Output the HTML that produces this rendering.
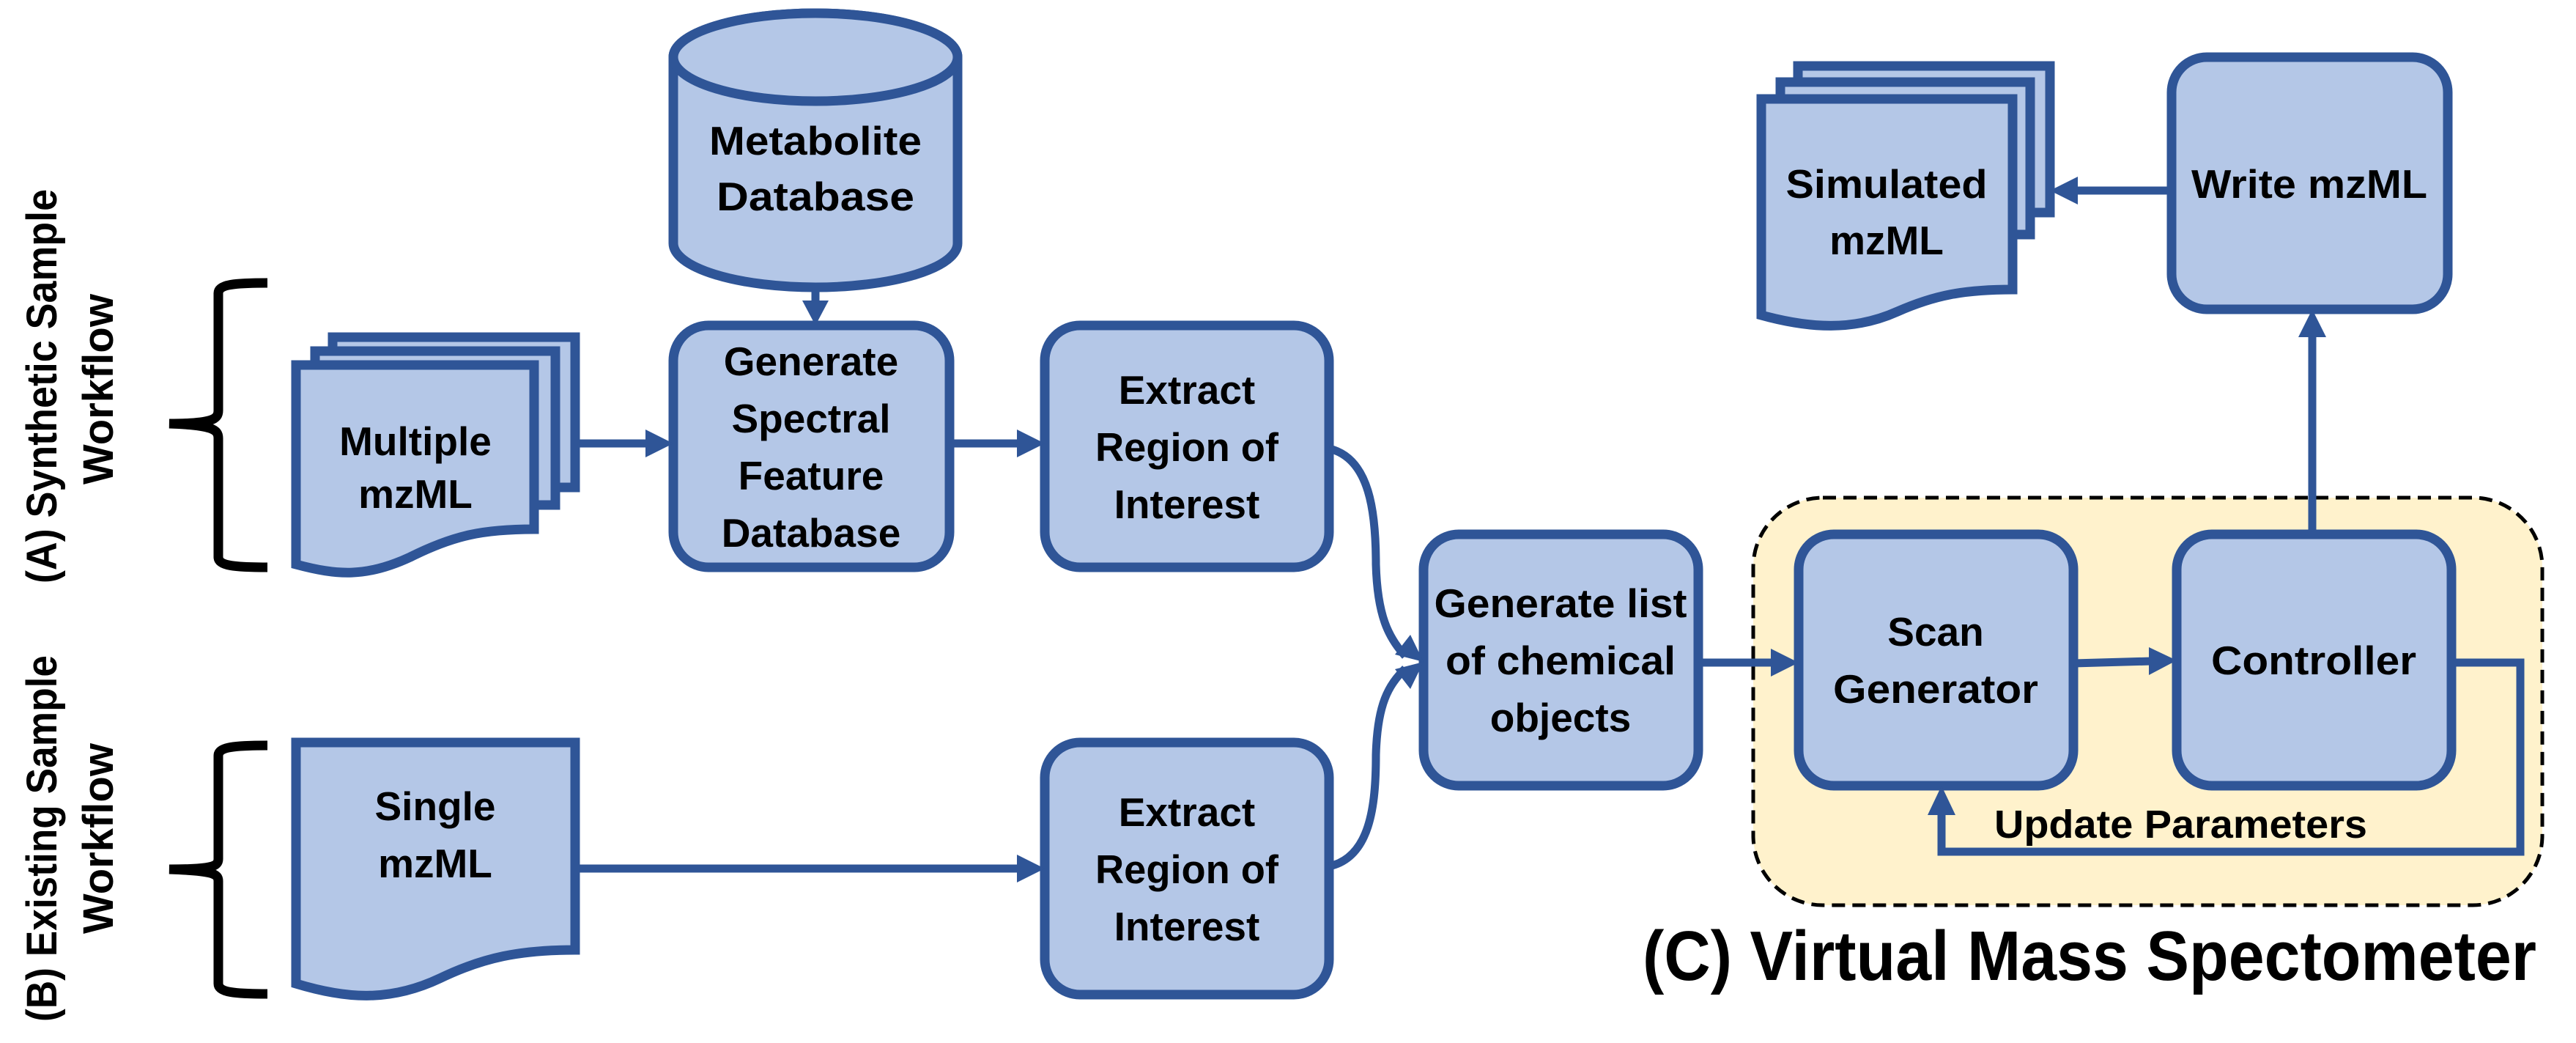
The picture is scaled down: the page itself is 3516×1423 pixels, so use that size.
<!DOCTYPE html>
<html><head><meta charset="utf-8"><style>
html,body{margin:0;padding:0;background:#fff;}
svg{display:block;}
text{font-family:"Liberation Sans",sans-serif;font-weight:bold;fill:#000;}
.b{fill:#B4C7E7;stroke:#2F5597;stroke-width:13;}
.l{fill:none;stroke:#2F5597;stroke-width:11;}
.h{fill:#2F5597;}
.t{font-size:55px;text-anchor:middle;}
.k{fill:none;stroke:#000;stroke-width:13;}
</style></head><body>
<svg width="3516" height="1423" viewBox="0 0 3516 1423" xmlns="http://www.w3.org/2000/svg">
<rect x="2393" y="679" width="1077" height="556" rx="95" fill="#FFF2CC" stroke="#000" stroke-width="5" stroke-dasharray="18,10"/>

<path class="k" d="M365 386 C320 386 298 388 298 400 L298 560 C298 572 290 578 231 578 C290 580 298 586 298 598 L298 760 C298 772 320 774 365 774"/>
<path class="k" d="M365 1017 C320 1017 298 1019 298 1031 L298 1172 C298 1182 290 1186 231 1186 C290 1188 298 1192 298 1202 L298 1342 C298 1354 320 1356 365 1356"/>
<text transform="translate(77,527) rotate(-90)" text-anchor="middle" font-size="58" textLength="538" lengthAdjust="spacingAndGlyphs">(A) Synthetic Sample</text>
<text transform="translate(154,531) rotate(-90)" text-anchor="middle" font-size="58" textLength="260" lengthAdjust="spacingAndGlyphs">Workflow</text>
<text transform="translate(77,1144) rotate(-90)" text-anchor="middle" font-size="58" textLength="500" lengthAdjust="spacingAndGlyphs">(B) Existing Sample</text>
<text transform="translate(154,1144) rotate(-90)" text-anchor="middle" font-size="58" textLength="260" lengthAdjust="spacingAndGlyphs">Workflow</text>

<path class="b" d="M919 78 L919 332 A194 60 0 0 0 1307 332 L1307 78 A194 60 0 0 0 919 78 Z"/>
<ellipse class="b" cx="1113" cy="78" rx="194" ry="60"/>
<text class="t" x="1113" y="211" textLength="290" lengthAdjust="spacingAndGlyphs">Metabolite</text>
<text class="t" x="1113" y="287" textLength="270" lengthAdjust="spacingAndGlyphs">Database</text>

<rect class="b" x="454" y="460" width="331" height="205"/>
<rect class="b" x="430" y="479" width="328" height="210"/>
<path class="b" d="M404 498 H729 V722 C660 722 620 730 560 760 C500 788 460 785 404 770 Z"/>
<text class="t" x="567" y="621">Multiple</text>
<text class="t" x="567" y="693">mzML</text>

<path class="b" d="M404 1013 H785 V1296 C710 1296 660 1306 600 1335 C530 1368 470 1362 404 1342 Z"/>
<text class="t" x="594" y="1119">Single</text>
<text class="t" x="594" y="1197">mzML</text>

<rect class="b" x="2454" y="90" width="344" height="200"/>
<rect class="b" x="2430" y="112" width="341" height="208"/>
<path class="b" d="M2404 135 H2747 V395 C2680 395 2640 403 2590 425 C2530 452 2470 448 2404 430 Z"/>
<text class="t" x="2575" y="270" textLength="275" lengthAdjust="spacingAndGlyphs">Simulated</text>
<text class="t" x="2575" y="347">mzML</text>

<rect class="b" x="919" y="444" width="377" height="330" rx="48"/>
<text class="t" x="1107" y="512">Generate</text>
<text class="t" x="1107" y="590">Spectral</text>
<text class="t" x="1107" y="668">Feature</text>
<text class="t" x="1107" y="746">Database</text>

<rect class="b" x="1426" y="444" width="388" height="330" rx="48"/>
<text class="t" x="1620" y="551">Extract</text>
<text class="t" x="1620" y="629" textLength="250" lengthAdjust="spacingAndGlyphs">Region of</text>
<text class="t" x="1620" y="707">Interest</text>

<rect class="b" x="1426" y="1013" width="388" height="344" rx="48"/>
<text class="t" x="1620" y="1127">Extract</text>
<text class="t" x="1620" y="1205" textLength="250" lengthAdjust="spacingAndGlyphs">Region of</text>
<text class="t" x="1620" y="1283">Interest</text>

<rect class="b" x="1943" y="729" width="375" height="343" rx="48"/>
<text class="t" x="2130" y="842" textLength="345" lengthAdjust="spacingAndGlyphs">Generate list</text>
<text class="t" x="2130" y="920" textLength="314" lengthAdjust="spacingAndGlyphs">of chemical</text>
<text class="t" x="2130" y="998">objects</text>

<rect class="b" x="2455" y="729" width="375" height="343" rx="48"/>
<text class="t" x="2642" y="881">Scan</text>
<text class="t" x="2642" y="959" textLength="280" lengthAdjust="spacingAndGlyphs">Generator</text>

<rect class="b" x="2971" y="729" width="375" height="343" rx="48"/>
<text class="t" x="3158" y="920" textLength="280" lengthAdjust="spacingAndGlyphs">Controller</text>

<rect class="b" x="2964" y="78" width="377" height="344" rx="48"/>
<text class="t" x="3152" y="270" textLength="322" lengthAdjust="spacingAndGlyphs">Write mzML</text>

<path class="l" d="M785 605 H885"/><path class="h" d="M919 605 L881 586 L881 624 Z"/>
<path class="l" d="M1296 605 H1392"/><path class="h" d="M1426 605 L1388 586 L1388 624 Z"/>
<path class="l" d="M1113 392 V415"/><path class="h" d="M1113 444 L1095 410 L1131 410 Z"/>
<path class="l" d="M785 1185 H1392"/><path class="h" d="M1426 1185 L1388 1166 L1388 1204 Z"/>
<path class="l" d="M1814 612 C1870 625 1878 700 1878 770 C1880 840 1895 870 1918 895"/>
<path class="h" d="M1943 903 L1925 866 L1904 893 Z"/>
<path class="l" d="M1814 1182 C1870 1170 1878 1100 1878 1030 C1880 960 1895 935 1918 912"/>
<path class="h" d="M1943 903 L1904 913 L1925 940 Z"/>
<path class="l" d="M2318 904 H2421"/><path class="h" d="M2455 904 L2417 885 L2417 923 Z"/>
<path class="l" d="M2830 905 L2937 902"/><path class="h" d="M2971 901 L2933 883 L2933 921 Z"/>
<path class="l" d="M3156 729 V456"/><path class="h" d="M3156 422 L3137 460 L3175 460 Z"/>
<path class="l" d="M2964 260 H2832"/><path class="h" d="M2798 260 L2836 241 L2836 279 Z"/>
<path class="l" d="M3346 904 H3440 V1162 H2650 V1106"/><path class="h" d="M2650 1072 L2631 1112 L2669 1112 Z"/>

<text x="2722" y="1143" font-size="54" textLength="509" lengthAdjust="spacingAndGlyphs">Update Parameters</text>
<text x="2242" y="1337" font-size="96" textLength="1220" lengthAdjust="spacingAndGlyphs">(C) Virtual Mass Spectometer</text>
</svg>
</body></html>
